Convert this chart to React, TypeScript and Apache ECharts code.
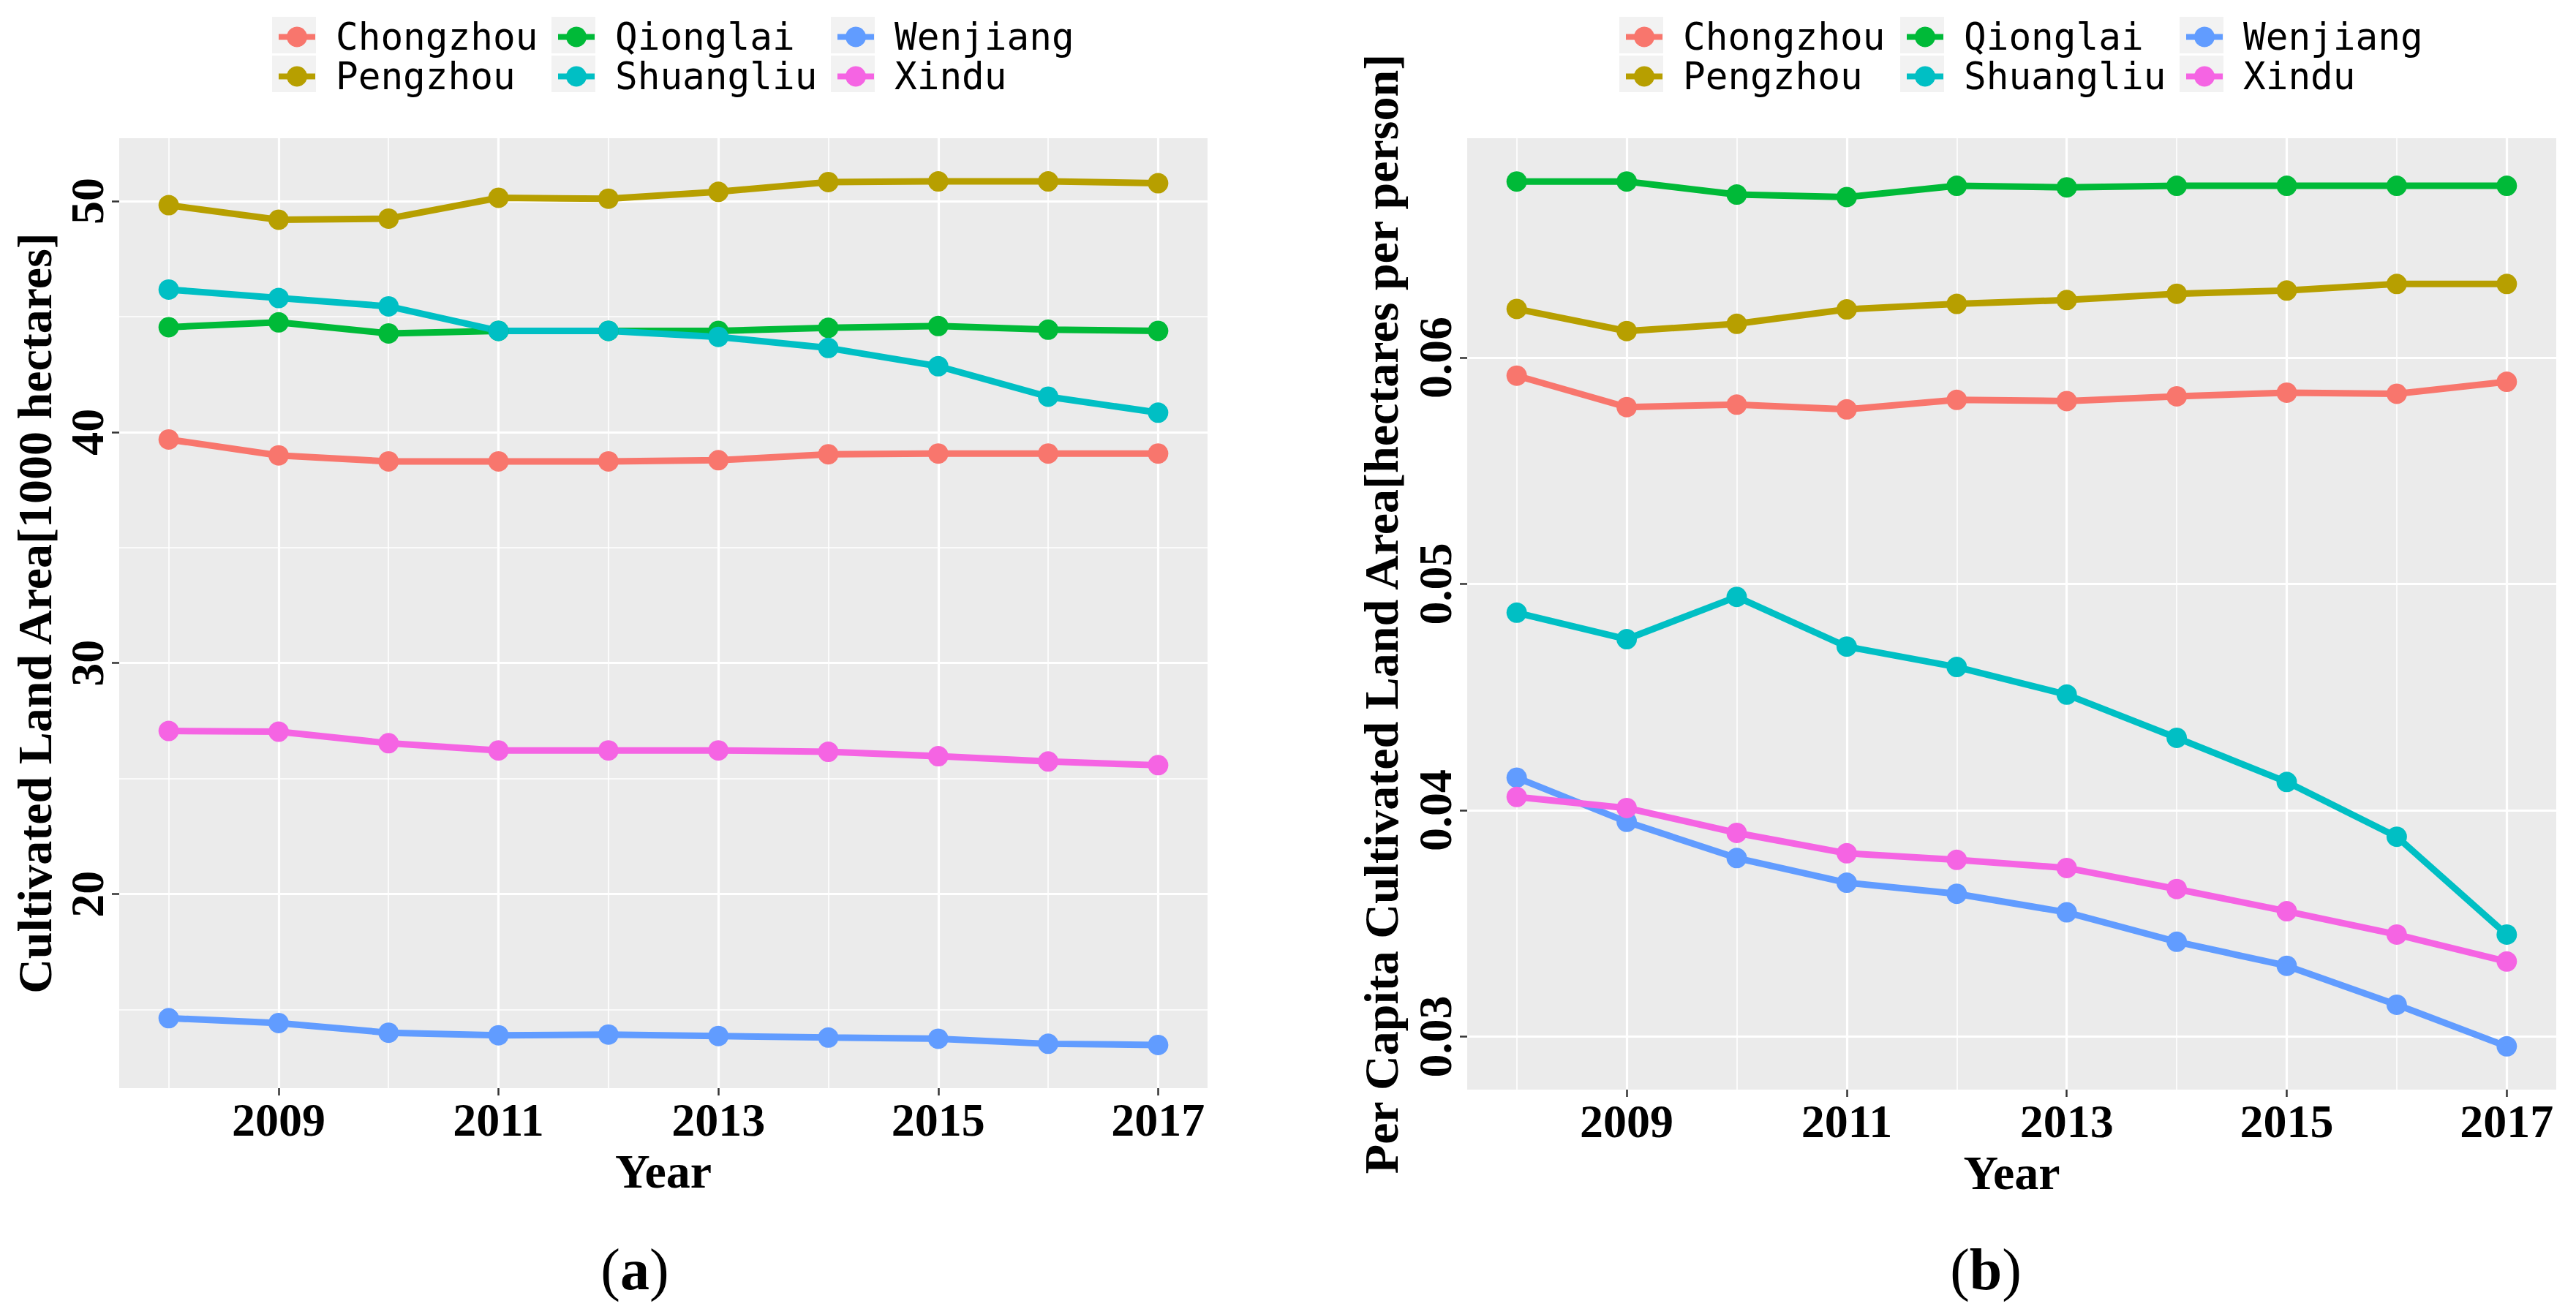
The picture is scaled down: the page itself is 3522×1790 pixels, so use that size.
import React, { useEffect, useRef } from "react";
import * as echarts from "echarts";

const years = [2008, 2009, 2010, 2011, 2012, 2013, 2014, 2015, 2016, 2017];
const districts = ["Chongzhou", "Pengzhou", "Qionglai", "Shuangliu", "Wenjiang", "Xindu"];
const colors = ["#F8766D", "#B79F00", "#00BA38", "#00BFC4", "#619CFF", "#F564E3"];

// (a) Cultivated land area, 1000 hectares
const areaChongzhou = [39.68, 38.99, 38.73, 38.73, 38.73, 38.78, 39.04, 39.07, 39.07, 39.07];
const areaPengzhou = [49.82, 49.19, 49.24, 50.14, 50.1, 50.4, 50.82, 50.85, 50.85, 50.77];
const areaQionglai = [44.54, 44.75, 44.27, 44.38, 44.38, 44.38, 44.51, 44.59, 44.43, 44.38];
const areaShuangliu = [46.17, 45.8, 45.44, 44.38, 44.38, 44.12, 43.64, 42.85, 41.53, 40.84];
const areaWenjiang = [14.63, 14.42, 14.0, 13.89, 13.92, 13.86, 13.79, 13.74, 13.52, 13.47];
const areaXindu = [27.06, 27.03, 26.53, 26.22, 26.22, 26.22, 26.16, 25.97, 25.74, 25.58];

// (b) Per capita cultivated land area, hectares per person
const pcChongzhou = [0.0592, 0.05781, 0.05792, 0.05771, 0.05813, 0.05808, 0.05829, 0.05845, 0.0584, 0.05893];
const pcPengzhou = [0.06215, 0.06117, 0.06149, 0.06213, 0.06237, 0.06254, 0.06282, 0.06296, 0.06325, 0.06325];
const pcQionglai = [0.06778, 0.06778, 0.0672, 0.06709, 0.06759, 0.06752, 0.06759, 0.06759, 0.06759, 0.06759];
const pcShuangliu = [0.04873, 0.04756, 0.04943, 0.04723, 0.04633, 0.04511, 0.0432, 0.04125, 0.03883, 0.03451];
const pcWenjiang = [0.04144, 0.03949, 0.03789, 0.0368, 0.03631, 0.03549, 0.03419, 0.03313, 0.03141, 0.02957];
const pcXindu = [0.04059, 0.0401, 0.039, 0.0381, 0.03781, 0.03745, 0.03652, 0.03554, 0.03451, 0.03332];

const areaValues = [areaChongzhou, areaPengzhou, areaQionglai, areaShuangliu, areaWenjiang, areaXindu];
const pcValues = [pcChongzhou, pcPengzhou, pcQionglai, pcShuangliu, pcWenjiang, pcXindu];

const yearTicks = [2009, 2011, 2013, 2015, 2017];
const yearMinorTicks = [2008, 2010, 2012, 2014, 2016];
const areaTicks = [20, 30, 40, 50];
const areaMinorTicks = [15, 25, 35, 45];
const pcTicks = [0.03, 0.04, 0.05, 0.06];
const pcMinorTicks = [0.035, 0.045, 0.055, 0.065];

const areaTitle = "Cultivated Land Area[1000 hectares]";
const pcTitle = "Per Capita Cultivated Land Area[hectares per person]";
const xTitle = "Year";

const SERIF = "'Liberation Serif', 'Times New Roman', serif";
const MONO = "'DejaVu Sans Mono', 'Liberation Mono', monospace";

function expanded(vals: number[][]) {
  const flat = vals.flat();
  const lo = Math.min(...flat);
  const hi = Math.max(...flat);
  const pad = (hi - lo) * 0.05;
  return [lo - pad, hi + pad];
}

const fmt = (v: number) => String(Number(Number(v).toFixed(4)));

export default function App() {
  const ref = useRef<HTMLDivElement>(null);

  useEffect(() => {
    if (!ref.current) return;
    const chart = echarts.init(ref.current, undefined, { renderer: "svg" });

    const grids = [
      { left: 163, top: 189, width: 1488, height: 1299 },
      { left: 2006, top: 189, width: 1489, height: 1301 },
    ];
    const xPad = (years[years.length - 1] - years[0]) * 0.05;
    const xMin = years[0] - xPad;
    const xMax = years[years.length - 1] + xPad;
    const [aMin, aMax] = expanded(areaValues);
    const [bMin, bMax] = expanded(pcValues);

    const axisText = { fontFamily: SERIF, fontWeight: "bold" as const, color: "#000" };

    const xAxes = [0, 1].map((g) => ({
      type: "value",
      gridIndex: g,
      min: xMin,
      max: xMax,
      axisLine: { show: false },
      axisTick: { show: true, length: 10, customValues: yearTicks, lineStyle: { color: "#333", width: 2.5 } },
      axisLabel: { customValues: yearTicks, fontSize: 64, margin: 11, ...axisText, formatter: fmt },
      splitLine: { show: false },
      name: xTitle,
      nameLocation: "middle",
      nameGap: 80,
      nameTextStyle: { fontSize: 66, ...axisText },
    }));

    const yAxes = [
      { min: aMin, max: aMax, ticks: areaTicks, name: areaTitle, gap: 83 },
      { min: bMin, max: bMax, ticks: pcTicks, name: pcTitle, gap: 85 },
    ].map((a, g) => ({
      type: "value",
      gridIndex: g,
      min: a.min,
      max: a.max,
      axisLine: { show: false },
      axisTick: { show: true, length: 10, customValues: a.ticks, lineStyle: { color: "#333", width: 2.5 } },
      axisLabel: { customValues: a.ticks, fontSize: 64, margin: 12, rotate: 90, ...axisText, formatter: fmt },
      splitLine: { show: false },
      name: a.name,
      nameLocation: "middle",
      nameRotate: 90,
      nameGap: a.gap,
      nameTextStyle: { fontSize: 66, ...axisText },
    }));

    const gridLineSeries = [0, 1].map((g) => {
      const major = { color: "#ffffff", width: 3.2, type: "solid" };
      const minor = { color: "#ffffff", width: 1.6, type: "solid" };
      const yt = g === 0 ? areaTicks : pcTicks;
      const ym = g === 0 ? areaMinorTicks : pcMinorTicks;
      return {
        type: "line",
        xAxisIndex: g,
        yAxisIndex: g,
        data: [],
        silent: true,
        z: 1,
        markLine: {
          silent: true,
          z: 1,
          symbol: ["none", "none"],
          label: { show: false },
          emphasis: { disabled: true },
          data: [
            ...yearMinorTicks.map((v) => ({ xAxis: v, lineStyle: minor })),
            ...ym.map((v) => ({ yAxis: v, lineStyle: minor })),
            ...yearTicks.map((v) => ({ xAxis: v, lineStyle: major })),
            ...yt.map((v) => ({ yAxis: v, lineStyle: major })),
          ],
        },
      };
    });

    const dataSeries = [areaValues, pcValues].flatMap((vals, g) =>
      districts.map((name, i) => ({
        type: "line",
        name,
        xAxisIndex: g,
        yAxisIndex: g,
        data: years.map((y, j) => [y, vals[i][j]]),
        symbol: "circle",
        symbolSize: 28,
        showSymbol: true,
        z: 10,
        silent: true,
        lineStyle: { width: 9, color: colors[i] },
        itemStyle: { color: colors[i] },
      }))
    );

    const keyCentersA = [402, 784, 1166];
    const keyCentersB = [2244, 2628, 3010];
    const columns = [
      [districts[0], districts[1]],
      [districts[2], districts[3]],
      [districts[4], districts[5]],
    ];
    const legends = [...keyCentersA, ...keyCentersB].map((cx, k) => ({
      orient: "vertical",
      left: cx - 30,
      top: 20,
      itemWidth: 50,
      itemHeight: 35,
      itemGap: 3,
      selectedMode: false,
      data: columns[k % 3],
      lineStyle: { width: 8 },
      textStyle: { fontFamily: MONO, fontSize: 51, lineHeight: 50, color: "#000", padding: [0, 0, 0, 23] },
    }));

    const keyRects = [...keyCentersA, ...keyCentersB].flatMap((cx) =>
      [23, 76].map((y) => ({
        type: "rect",
        shape: { x: cx - 30, y, width: 60, height: 50 },
        style: { fill: "#F2F2F2" },
        z: 0,
        silent: true,
      }))
    );

    const panelLabels = [
      { x: 868, text: "{p|(}{l|a}{p|)}" },
      { x: 2715, text: "{p|(}{l|b}{p|)}" },
    ].map((t) => ({
      type: "text",
      x: t.x,
      y: 1736,
      silent: true,
      style: {
        text: t.text,
        align: "center",
        verticalAlign: "middle",
        fill: "#000",
        rich: {
          p: { fontFamily: SERIF, fontSize: 80, fontWeight: "normal", fill: "#000" },
          l: { fontFamily: SERIF, fontSize: 80, fontWeight: "bold", fill: "#000" },
        },
      },
    }));

    chart.setOption({
      animation: false,
      backgroundColor: "#ffffff",
      grid: grids.map((g) => ({ ...g, show: true, backgroundColor: "#EBEBEB", borderWidth: 0, containLabel: false })),
      xAxis: xAxes,
      yAxis: yAxes,
      legend: legends,
      series: [...gridLineSeries, ...dataSeries],
      graphic: [...keyRects, ...panelLabels],
    } as any);

    return () => chart.dispose();
  }, []);

  return (
    <div
      ref={ref}
      style={{ position: "fixed", left: 0, top: 0, width: "3522px", height: "1790px", background: "#fff" }}
    />
  );
}
